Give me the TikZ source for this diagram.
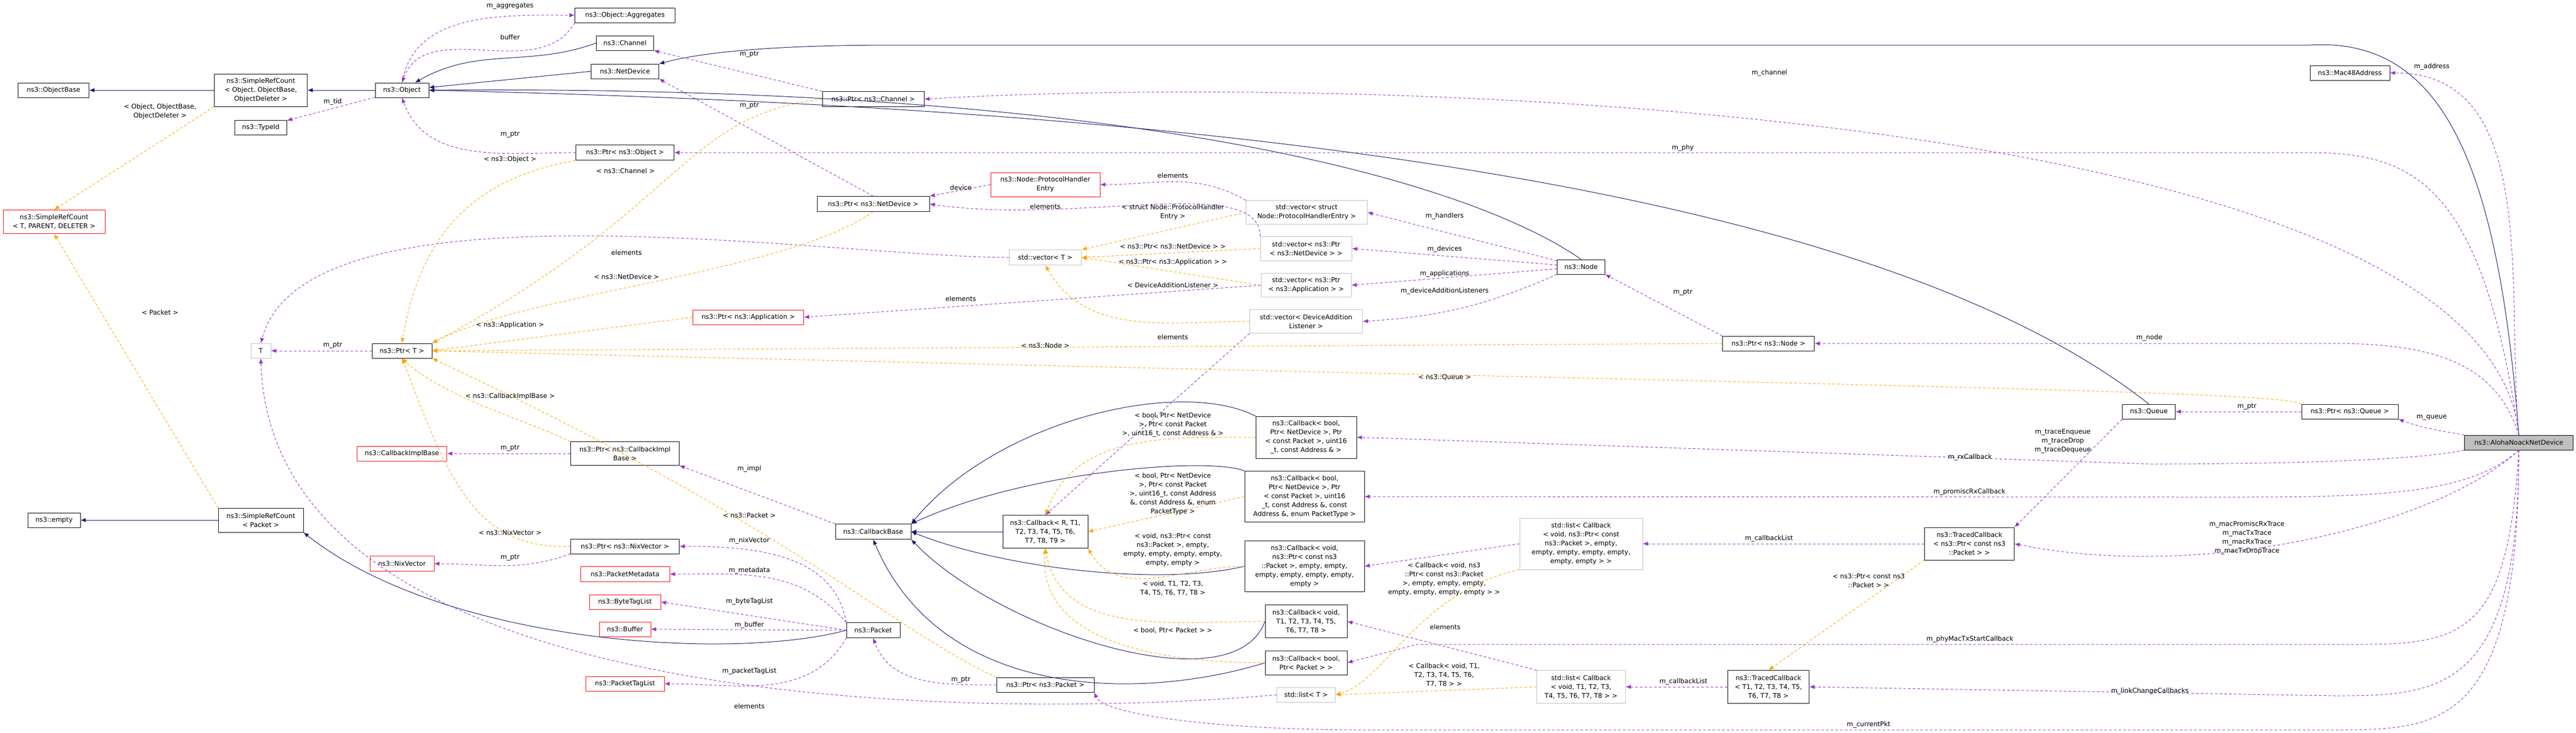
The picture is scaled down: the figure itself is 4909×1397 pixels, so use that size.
\documentclass[tikz,border=0pt]{standalone}
\usepackage{fontspec}
\setmainfont{DejaVu Sans}
\usetikzlibrary{arrows.meta}
\definecolor{inhcol}{RGB}{25,25,112}
\definecolor{usecol}{RGB}{155,50,205}
\definecolor{tplcol}{RGB}{255,165,0}
\definecolor{tplbox}{RGB}{191,191,191}
\tikzset{
  box/.style={rectangle, draw, inner sep=0.2pt, align=center, fill=white, font=\fontsize{1.25}{1.7}\selectfont, line width=0.08pt},
  sz/.style 2 args={minimum width=#1*0.1pt, minimum height=#2*0.1pt},
  cls/.style={box, draw=black},
  und/.style={box, draw=red},
  gen/.style={box, draw=tplbox},
  lbl/.style={align=center, inner sep=0pt, font=\fontsize{1.25}{1.7}\selectfont},
  inh/.style={draw=inhcol, line width=0.1pt, -{Latex[length=1pt,width=0.8pt]}},
  use/.style={draw=usecol, dash pattern=on 0.5pt off 0.4pt, line width=0.1pt, -{Latex[length=1pt,width=0.8pt]}},
  tpl/.style={draw=tplcol, dash pattern=on 0.5pt off 0.4pt, line width=0.1pt, -{Latex[length=1pt,width=0.8pt]}}
}
\begin{document}
\begin{tikzpicture}[x=0.1pt,y=-0.1pt]
  \useasboundingbox (0,0) rectangle (4909,1397);

  % classes
  \node[cls, sz={135}{28}] (ob) at (102,172) {ns3::ObjectBase};
  \node[cls, sz={177}{62}] (srco) at (497,172) {ns3::SimpleRefCount\\< Object, ObjectBase,\\ObjectDeleter >};
  \node[cls, sz={102}{28}] (obj) at (766,172) {ns3::Object};
  \node[cls, sz={99}{28}] (tid) at (497,243) {ns3::TypeId};
  \node[cls, sz={191}{28}] (agg) at (1191,29) {ns3::Object::Aggregates};
  \node[cls, sz={109}{28}] (chan) at (1191,82) {ns3::Channel};
  \node[cls, sz={129}{28}] (nd) at (1191,136) {ns3::NetDevice};
  \node[cls, sz={187}{29}] (pobj) at (1191,291) {ns3::Ptr< ns3::Object >};
  \node[und, sz={194}{45}] (srct) at (103,423) {ns3::SimpleRefCount\\< T, PARENT, DELETER >};
  \node[gen, sz={38}{28}] (t) at (497,669) {T};
  \node[cls, sz={114}{28}] (pt) at (766,669) {ns3::Ptr< T >};
  \node[und, sz={171}{28}] (cib) at (766,865) {ns3::CallbackImplBase};
  \node[cls, sz={207}{45}] (pcib) at (1191,865) {ns3::Ptr< ns3::CallbackImpl\\Base >};
  \node[cls, sz={100}{28}] (emp) at (103,992) {ns3::empty};
  \node[cls, sz={162}{46}] (srcp) at (497,992) {ns3::SimpleRefCount\\< Packet >};
  \node[cls, sz={207}{28}] (pnix) at (1191,1042) {ns3::Ptr< ns3::NixVector >};
  \node[und, sz={122}{29}] (nix) at (766,1075) {ns3::NixVector};
  \node[und, sz={170}{29}] (meta) at (1191,1095) {ns3::PacketMetadata};
  \node[und, sz={136}{28}] (btl) at (1191,1148) {ns3::ByteTagList};
  \node[und, sz={98}{28}] (buf) at (1191,1200) {ns3::Buffer};
  \node[und, sz={150}{28}] (ptl) at (1191,1304) {ns3::PacketTagList};
  \node[cls, sz={194}{29}] (pchan) at (1664,189) {ns3::Ptr< ns3::Channel >};
  \node[und, sz={208}{46}] (phe) at (1992,352) {ns3::Node::ProtocolHandler\\Entry};
  \node[cls, sz={214}{29}] (pnd) at (1664,389) {ns3::Ptr< ns3::NetDevice >};
  \node[gen, sz={231}{45}] (vphe) at (2490,405) {std::vector< struct\\Node::ProtocolHandlerEntry >};
  \node[gen, sz={137}{29}] (vt) at (1992,491) {std::vector< T >};
  \node[gen, sz={174}{46}] (vnd) at (2489,474) {std::vector< ns3::Ptr\\< ns3::NetDevice > >};
  \node[gen, sz={172}{45}] (vapp) at (2489,544) {std::vector< ns3::Ptr\\< ns3::Application > >};
  \node[gen, sz={215}{45}] (vdal) at (2489,613) {std::vector< DeviceAddition\\Listener >};
  \node[und, sz={211}{28}] (papp) at (1426,605) {ns3::Ptr< ns3::Application >};
  \node[cls, sz={91}{28}] (node) at (3013,509) {ns3::Node};
  \node[cls, sz={175}{28}] (pnode) at (3370,655) {ns3::Ptr< ns3::Node >};
  \node[cls, sz={144}{29}] (cbase) at (1664,1014) {ns3::CallbackBase};
  \node[cls, sz={162}{63}] (cbr) at (1992,1014) {ns3::Callback< R, T1,\\T2, T3, T4, T5, T6,\\T7, T8, T9 >};
  \node[cls, sz={192}{80}] (cb4) at (2489,834) {ns3::Callback< bool,\\Ptr< NetDevice >, Ptr\\< const Packet >, uint16\\\_t, const Address \& >};
  \node[cls, sz={228}{97}] (cb5) at (2486,947) {ns3::Callback< bool,\\Ptr< NetDevice >, Ptr\\< const Packet >, uint16\\\_t, const Address \&, const\\Address \&, enum PacketType >};
  \node[cls, sz={228}{97}] (cbv5) at (2486,1080) {ns3::Callback< void,\\ns3::Ptr< const ns3\\::Packet >, empty, empty,\\empty, empty, empty, empty,\\empty >};
  \node[cls, sz={156}{63}] (cbvt) at (2489,1185) {ns3::Callback< void,\\T1, T2, T3, T4, T5,\\T6, T7, T8 >};
  \node[cls, sz={156}{46}] (cbbp) at (2489,1264) {ns3::Callback< bool,\\Ptr< Packet > >};
  \node[gen, sz={111}{28}] (lt) at (2489,1325) {std::list< T >};
  \node[cls, sz={102}{29}] (pkt) at (1664,1202) {ns3::Packet};
  \node[cls, sz={186}{28}] (ppkt) at (1992,1306) {ns3::Ptr< ns3::Packet >};
  \node[gen, sz={234}{98}] (l1) at (3013,1037) {std::list< Callback\\< void, ns3::Ptr< const\\ns3::Packet >, empty,\\empty, empty, empty, empty,\\empty, empty > >};
  \node[cls, sz={171}{62}] (tc1) at (3753,1037) {ns3::TracedCallback\\< ns3::Ptr< const ns3\\::Packet > >};
  \node[gen, sz={169}{63}] (l2) at (3013,1310) {std::list< Callback\\< void, T1, T2, T3,\\T4, T5, T6, T7, T8 > >};
  \node[cls, sz={155}{63}] (tc2) at (3370,1310) {ns3::TracedCallback\\< T1, T2, T3, T4, T5,\\T6, T7, T8 >};
  \node[cls, sz={101}{28}] (q) at (4095,785) {ns3::Queue};
  \node[cls, sz={184}{28}] (pq) at (4478,785) {ns3::Ptr< ns3::Queue >};
  \node[cls, sz={152}{28}] (mac) at (4478,139) {ns3::Mac48Address};
  \node[cls, fill=tplbox, sz={207}{28}] (al) at (4800,844) {ns3::AlohaNoackNetDevice};

  % inheritance
  \draw[inh] (srco) -- (ob);
  \draw[inh] (obj) -- (srco);
  \draw[inh] (chan.west) to[out=200,in=30] (obj);
  \draw[inh] (nd.west) -- (obj);
  \draw[inh] (node.north) .. controls (2850,380) and (2300,160) .. (obj.east);
  \draw[inh] (q.north) .. controls (3500,300) and (2000,200) .. (obj.east);
  \draw[inh] (al.north) .. controls (4760,300) and (4650,70) .. (4400,86) -- (1700,86) .. controls (1400,86) and (1300,110) .. (nd.north east);
  \draw[inh] (pkt.west) .. controls (1400,1260) and (850,1230) .. (srcp.south east);
  \draw[inh] (srcp) -- (emp);
  \draw[inh] (cbr) -- (cbase);
  \draw[inh] (cb4.north west) .. controls (2250,720) and (1900,800) .. (cbase.north east);
  \draw[inh] (cb5.north west) .. controls (2300,870) and (1950,900) .. (cbase.north east);
  \draw[inh] (cbv5.west) .. controls (2200,1120) and (1900,1080) .. (cbase.east);
  \draw[inh] (cbvt.west) .. controls (2350,1350) and (1900,1200) .. (cbase.south east);
  \draw[inh] (cbbp.west) .. controls (2200,1330) and (1800,1350) .. (cbase.south);

  % members
  \draw[use] (obj.north) to[out=80,in=180] (agg.west);
  \draw[use] (agg.south west) to[out=240,in=70] (obj.north);
  \draw[use] (obj) -- (tid);
  \draw[use] (pobj.west) to[out=180,in=-70] (obj.south);
  \draw[use] (pchan.north west) -- (chan.south east);
  \draw[use] (pnd.north) -- (nd.south east);
  \draw[use] (pt) -- (t);
  \draw[use] (vt.west) to[out=180,in=75,looseness=0.6] (t.north);
  \draw[use] (lt.west) .. controls (2000,1365) and (520,1400) .. (t.south);
  \draw[use] (phe.west) -- (pnd.north east);
  \draw[use] (vphe.north west) to[out=150,in=0] (phe.east);
  \draw[use] (vnd.north west) .. controls (2400,330) and (2050,430) .. (pnd.east);
  \draw[use] (vapp.west) -- (papp.east);
  \draw[use] (vdal.south west) -- (cbr.north);
  \draw[use] (node) -- (vphe.east);
  \draw[use] (node) -- (vnd.east);
  \draw[use] (node) -- (vapp.east);
  \draw[use] (node.south west) to[bend left=10] (vdal.east);
  \draw[use] (pnode.north west) -- (node.south east);
  \draw[use] (pcib) -- (cib);
  \draw[use] (cbase.north west) -- (pcib.south east);
  \draw[use] (pnix.south west) to[out=200,in=0] (nix.east);
  \draw[use] (pkt.north west) to[out=100,in=0] (pnix.east);
  \draw[use] (pkt.north west) to[out=130,in=0] (meta.east);
  \draw[use] (pkt.west) -- (btl.east);
  \draw[use] (pkt.west) -- (buf.east);
  \draw[use] (pkt.south west) to[out=240,in=0] (ptl.east);
  \draw[use] (ppkt.west) to[out=180,in=-70] (pkt.south);
  \draw[use] (q.south west) -- (tc1.north east);
  \draw[use] (pq) -- (q);
  \draw[use] (tc1) -- (l1);
  \draw[use] (l1.west) -- (cbv5.east);
  \draw[use] (tc2) -- (l2);
  \draw[use] (l2.north west) -- (cbvt.east);
  \draw[use] (al.north) to[out=95,in=0] (mac.east);
  \draw[use] (al.north) .. controls (4740,200) and (2600,140) .. (pchan.east);
  \draw[use] (al.north) .. controls (4730,350) and (4600,291) .. (4400,291) -- (pobj.east);
  \draw[use] (al.north) .. controls (4760,700) and (4650,655) .. (4450,655) -- (pnode.east);
  \draw[use] (al.north west) to[out=170,in=-20] (pq.south east);
  \draw[use] (al.south west) .. controls (4600,880) and (4300,885) .. (4100,885) -- (cb4.east);
  \draw[use] (al.south) .. controls (4700,950) and (4500,948) .. (4200,948) -- (cb5.east);
  \draw[use] (al.south) .. controls (4650,1000) and (4200,1110) .. (tc1.east);
  \draw[use] (al.south) .. controls (4780,1200) and (4700,1229) .. (4500,1229) -- (2700,1229) -- (cbbp.east);
  \draw[use] (al.south) .. controls (4800,1320) and (4650,1327) .. (4450,1327) -- (tc2.east);
  \draw[use] (al.south) .. controls (4800,1390) and (4650,1392) .. (4450,1392) -- (2600,1392) .. controls (2300,1392) and (2100,1360) .. (ppkt.south east);

  % template instances
  \draw[tpl] (srco.south west) -- (srct.north);
  \draw[tpl] (srcp.north west) -- (srct.south);
  \draw[tpl] (pobj.south west) .. controls (900,340) and (800,450) .. (pt.north);
  \draw[tpl] (pchan.west) .. controls (1300,220) and (1300,400) .. (pt.north east);
  \draw[tpl] (pnd.south) .. controls (1500,520) and (1000,560) .. (pt.north east);
  \draw[tpl] (papp.west) -- (pt.east);
  \draw[tpl] (pnode.west) -- (pt.east);
  \draw[tpl] (pq.north west) .. controls (4350,745) and (3500,735) .. (pt.east);
  \draw[tpl] (pcib.north west) .. controls (1000,800) and (850,760) .. (pt.south);
  \draw[tpl] (pnix.west) .. controls (900,1050) and (850,900) .. (pt.south);
  \draw[tpl] (ppkt.north west) .. controls (1700,1200) and (1500,1000) .. (pt.south east);
  \draw[tpl] (vphe.west) -- (vt.north east);
  \draw[tpl] (vnd.west) -- (vt.east);
  \draw[tpl] (vapp.west) -- (vt.east);
  \draw[tpl] (vdal.west) to[out=180,in=-60] (vt.south);
  \draw[tpl] (cb4.west) to[out=180,in=70] (cbr.north);
  \draw[tpl] (cb5.west) -- (cbr.east);
  \draw[tpl] (cbv5.west) to[out=180,in=-60] (cbr.south east);
  \draw[tpl] (cbvt.west) to[out=180,in=-80] (cbr.south);
  \draw[tpl] (cbbp.west) to[out=180,in=-95] (cbr.south);
  \draw[tpl] (l1.south west) .. controls (2700,1130) and (2640,1300) .. (lt.east);
  \draw[tpl] (l2.west) -- (lt.east);
  \draw[tpl] (tc1.south west) -- (tc2.north);

  % connector labels
  \node[lbl] (laggr) at (972,12) {m\_aggregates};
  \node[lbl] (lbuf) at (972,71) {buffer};
  \node[lbl] (ltid) at (634,194) {m\_tid};
  \node[lbl] (lsrco) at (305,213) {< Object, ObjectBase,\\ObjectDeleter >};
  \node[lbl] (lpobj) at (972,257) {m\_ptr};
  \node[lbl] (ltobj) at (972,304) {< ns3::Object >};
  \node[lbl] (ltchan) at (1192,326) {< ns3::Channel >};
  \node[lbl] (lvtel) at (1194,482) {elements};
  \node[lbl] (ltnd) at (1194,528) {< ns3::NetDevice >};
  \node[lbl] (ltpkt0) at (305,596) {< Packet >};
  \node[lbl] (ltapp) at (972,620) {< ns3::Application >};
  \node[lbl] (lpt) at (634,659) {m\_ptr};
  \node[lbl] (ltcib) at (972,756) {< ns3::CallbackImplBase >};
  \node[lbl] (lpcib) at (972,855) {m\_ptr};
  \node[lbl] (ltnix) at (972,1016) {< ns3::NixVector >};
  \node[lbl] (lpnix) at (972,1064) {m\_ptr};
  \node[lbl] (lpchan) at (1428,104) {m\_ptr};
  \node[lbl] (lpnd) at (1428,202) {m\_ptr};
  \node[lbl] (ldev) at (1831,358) {device};
  \node[lbl] (lvphe) at (2235,335) {elements};
  \node[lbl] (lvnd) at (1992,394) {elements};
  \node[lbl] (ltphe) at (2235,405) {< struct Node::ProtocolHandler\\Entry >};
  \node[lbl] (ltvnd) at (2235,470) {< ns3::Ptr< ns3::NetDevice > >};
  \node[lbl] (ltvapp) at (2235,500) {< ns3::Ptr< ns3::Application > >};
  \node[lbl] (ltdal) at (2235,544) {< DeviceAdditionListener >};
  \node[lbl] (lvapp) at (1831,570) {elements};
  \node[lbl] (lvdal) at (2235,643) {elements};
  \node[lbl] (ltnode) at (1992,659) {< ns3::Node >};
  \node[lbl] (lphy) at (3207,282) {m\_phy};
  \node[lbl] (lhand) at (2753,412) {m\_handlers};
  \node[lbl] (ldevs) at (2753,475) {m\_devices};
  \node[lbl] (lapps) at (2753,522) {m\_applications};
  \node[lbl] (ldals) at (2753,555) {m\_deviceAdditionListeners};
  \node[lbl] (lpnode) at (3207,558) {m\_ptr};
  \node[lbl] (ltq) at (2753,720) {< ns3::Queue >};
  \node[lbl] (limpl) at (1428,894) {m\_impl};
  \node[lbl] (ltpkt) at (1428,983) {< ns3::Packet >};
  \node[lbl] (lnixv) at (1428,1031) {m\_nixVector};
  \node[lbl] (lmeta) at (1428,1088) {m\_metadata};
  \node[lbl] (lbtl) at (1428,1147) {m\_byteTagList};
  \node[lbl] (lbufm) at (1428,1192) {m\_buffer};
  \node[lbl] (lptl) at (1428,1280) {m\_packetTagList};
  \node[lbl] (lltel) at (1428,1347) {elements};
  \node[lbl] (lppkt) at (1831,1297) {m\_ptr};
  \node[lbl] (ltcb4) at (2235,810) {< bool, Ptr< NetDevice\\>, Ptr< const Packet\\>, uint16\_t, const Address \& >};
  \node[lbl] (ltcb5) at (2235,942) {< bool, Ptr< NetDevice\\>, Ptr< const Packet\\>, uint16\_t, const Address\\\&, const Address \&, enum\\PacketType >};
  \node[lbl] (ltcbv5) at (2235,1049) {< void, ns3::Ptr< const\\ns3::Packet >, empty,\\empty, empty, empty, empty,\\empty, empty >};
  \node[lbl] (ltcbvt) at (2235,1122) {< void, T1, T2, T3,\\T4, T5, T6, T7, T8 >};
  \node[lbl] (ltcbbp) at (2235,1202) {< bool, Ptr< Packet > >};
  \node[lbl] (ltl1) at (2752,1105) {< Callback< void, ns3\\::Ptr< const ns3::Packet\\>, empty, empty, empty,\\empty, empty, empty, empty > >};
  \node[lbl] (ll2el) at (2754,1196) {elements};
  \node[lbl] (ltl2) at (2752,1287) {< Callback< void, T1,\\T2, T3, T4, T5, T6,\\T7, T8 > >};
  \node[lbl] (lcbl1) at (3371,1027) {m\_callbackList};
  \node[lbl] (lttc) at (3561,1107) {< ns3::Ptr< const ns3\\::Packet > >};
  \node[lbl] (lcbl2) at (3208,1300) {m\_callbackList};
  \node[lbl] (lcur) at (3561,1382) {m\_currentPkt};
  \node[lbl] (lrx) at (3754,872) {m\_rxCallback};
  \node[lbl] (lprx) at (3753,938) {m\_promiscRxCallback};
  \node[lbl] (lptx) at (3754,1219) {m\_phyMacTxStartCallback};
  \node[lbl] (lpq) at (4282,776) {m\_ptr};
  \node[lbl] (lqueue) at (4634,796) {m\_queue};
  \node[lbl] (ltrace) at (3931,841) {m\_traceEnqueue\\m\_traceDrop\\m\_traceDequeue};
  \node[lbl] (lmac) at (4282,1026) {m\_macPromiscRxTrace\\m\_macTxTrace\\m\_macRxTrace\\m\_macTxDropTrace};
  \node[lbl] (llink) at (4097,1318) {m\_linkChangeCallbacks};
  \node[lbl] (laddr) at (4634,127) {m\_address};
  \node[lbl] (lchan) at (3372,139) {m\_channel};
  \node[lbl] (lnode) at (4096,644) {m\_node};
\end{tikzpicture}
\end{document}
